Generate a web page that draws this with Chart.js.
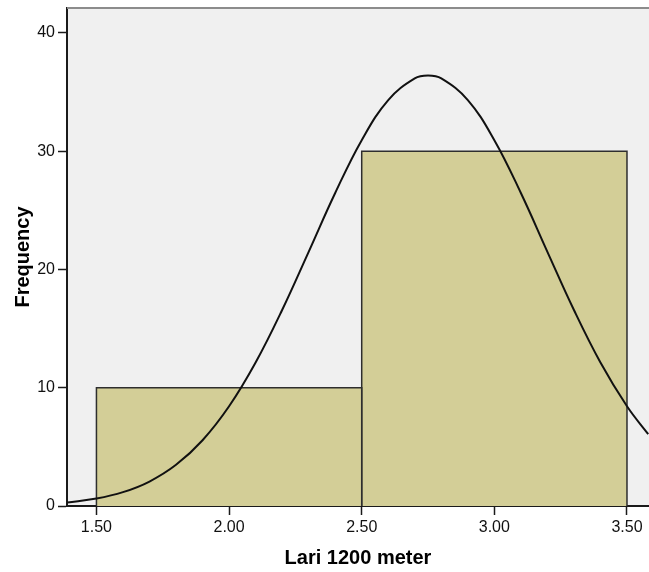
<!DOCTYPE html>
<html>
<head>
<meta charset="utf-8">
<script src="https://cdn.jsdelivr.net/npm/chart.js@4.4.0/dist/chart.umd.min.js"></script>
<style>
    html, body { margin: 0; padding: 0; background: #ffffff; }
    #wrap { width: 649px; height: 572px; position: relative; }
</style>
</head>
<body>
<div id="wrap"><canvas id="myChart"></canvas></div>
<script>
// Histogram bins (Lari 1200 meter)
var binStart = [1.5, 2.5];
var binEnd = [2.5, 3.5];
var binCount = [10, 30];

// Normal curve
var curveX = [1.39, 1.5, 1.6, 1.7, 1.8, 1.9, 2.0, 2.1, 2.2, 2.3, 2.4, 2.5, 2.6, 2.7, 2.75,
              2.8, 2.9, 3.0, 3.1, 3.2, 3.3, 3.4, 3.5, 3.58];
var curveY = [0.3, 0.63, 1.17, 2.07, 3.48, 5.56, 8.43, 12.13, 16.57, 21.49, 26.46, 30.93, 34.32, 36.15, 36.39,
              36.15, 34.32, 30.93, 26.46, 21.49, 16.57, 12.13, 8.43, 6.07];

var xTicks = [1.5, 2.0, 2.5, 3.0, 3.5];
var yTicks = [0, 10, 20, 30, 40];

// Background of the plot area and the grey top border
var plotBg = {
    id: 'plotBg',
    beforeDraw: function (chart) {
        var a = chart.chartArea;
        var c = chart.ctx;
        c.save();
        c.fillStyle = '#f0f0f0';
        c.fillRect(a.left, a.top, a.right - a.left, a.bottom - a.top);
        c.restore();
    },
    afterDraw: function (chart) {
        var a = chart.chartArea;
        var c = chart.ctx;
        c.save();
        c.strokeStyle = '#8c8c8c';
        c.lineWidth = 2;
        c.beginPath();
        c.moveTo(a.left, a.top);
        c.lineTo(a.right, a.top);
        c.stroke();
        c.restore();
    }
};

var datasets = [{
    label: 'Normal',
    data: curveX.map(function (x, i) { return { x: x, y: curveY[i] }; }),
    borderColor: '#111111',
    borderWidth: 2,
    pointRadius: 0,
    tension: 0.4,
    fill: false,
    order: 0
}];

for (var i = 0; i < binCount.length; i++) {
    datasets.push({
        label: 'bin' + i,
        data: [
            { x: binStart[i], y: 0 },
            { x: binStart[i], y: binCount[i] },
            { x: binEnd[i], y: binCount[i] },
            { x: binEnd[i], y: 0 }
        ],
        borderColor: '#2e2e2e',
        borderWidth: 1.5,
        backgroundColor: '#d3ce97',
        pointRadius: 0,
        tension: 0,
        fill: 'origin',
        order: 1
    });
}

var tickFont = { family: '"Liberation Sans", Arial, sans-serif', size: 16 };
var titleFont = { family: '"Liberation Sans", Arial, sans-serif', size: 20, weight: 'bold' };

var ctx = document.getElementById('myChart').getContext('2d');
var myChart = new Chart(ctx, {
    type: 'line',
    data: { datasets: datasets },
    plugins: [plotBg],
    options: {
        responsive: true,
        maintainAspectRatio: false,
        animation: false,
        layout: { padding: { top: 8, right: 0, bottom: 0, left: 0 } },
        plugins: {
            legend: { display: false },
            tooltip: { enabled: false }
        },
        scales: {
            x: {
                type: 'linear',
                min: 1.389,
                max: 3.583,
                afterBuildTicks: function (axis) {
                    axis.ticks = xTicks.map(function (v) { return { value: v }; });
                },
                afterFit: function (axis) {
                    axis.height = 66;
                    axis.paddingLeft = 0;
                    axis.paddingRight = 0;
                },
                grid: {
                    drawOnChartArea: false,
                    drawTicks: true,
                    tickLength: 9,
                    tickColor: '#1a1a1a',
                    tickWidth: 1.5
                },
                border: { display: true, color: '#1a1a1a', width: 2 },
                ticks: {
                    color: '#111111',
                    font: tickFont,
                    padding: 3,
                    maxRotation: 0,
                    callback: function (v) { return Number(v).toFixed(2); }
                },
                title: {
                    display: true,
                    text: 'Lari 1200 meter',
                    color: '#000000',
                    font: titleFont,
                    padding: { top: 0, bottom: 2 }
                }
            },
            y: {
                type: 'linear',
                min: 0,
                max: 42.1,
                afterBuildTicks: function (axis) {
                    axis.ticks = yTicks.map(function (v) { return { value: v }; });
                },
                afterFit: function (axis) {
                    axis.width = 67;
                    axis.paddingTop = 0;
                    axis.paddingBottom = 0;
                },
                grid: {
                    drawOnChartArea: false,
                    drawTicks: true,
                    tickLength: 9,
                    tickColor: '#1a1a1a',
                    tickWidth: 1.5
                },
                border: { display: true, color: '#1a1a1a', width: 2 },
                ticks: {
                    color: '#111111',
                    font: tickFont,
                    padding: 3
                },
                title: {
                    display: true,
                    text: 'Frequency',
                    color: '#000000',
                    font: titleFont,
                    padding: { top: 11, bottom: 0 }
                }
            }
        }
    }
});
</script>
</body>
</html>
